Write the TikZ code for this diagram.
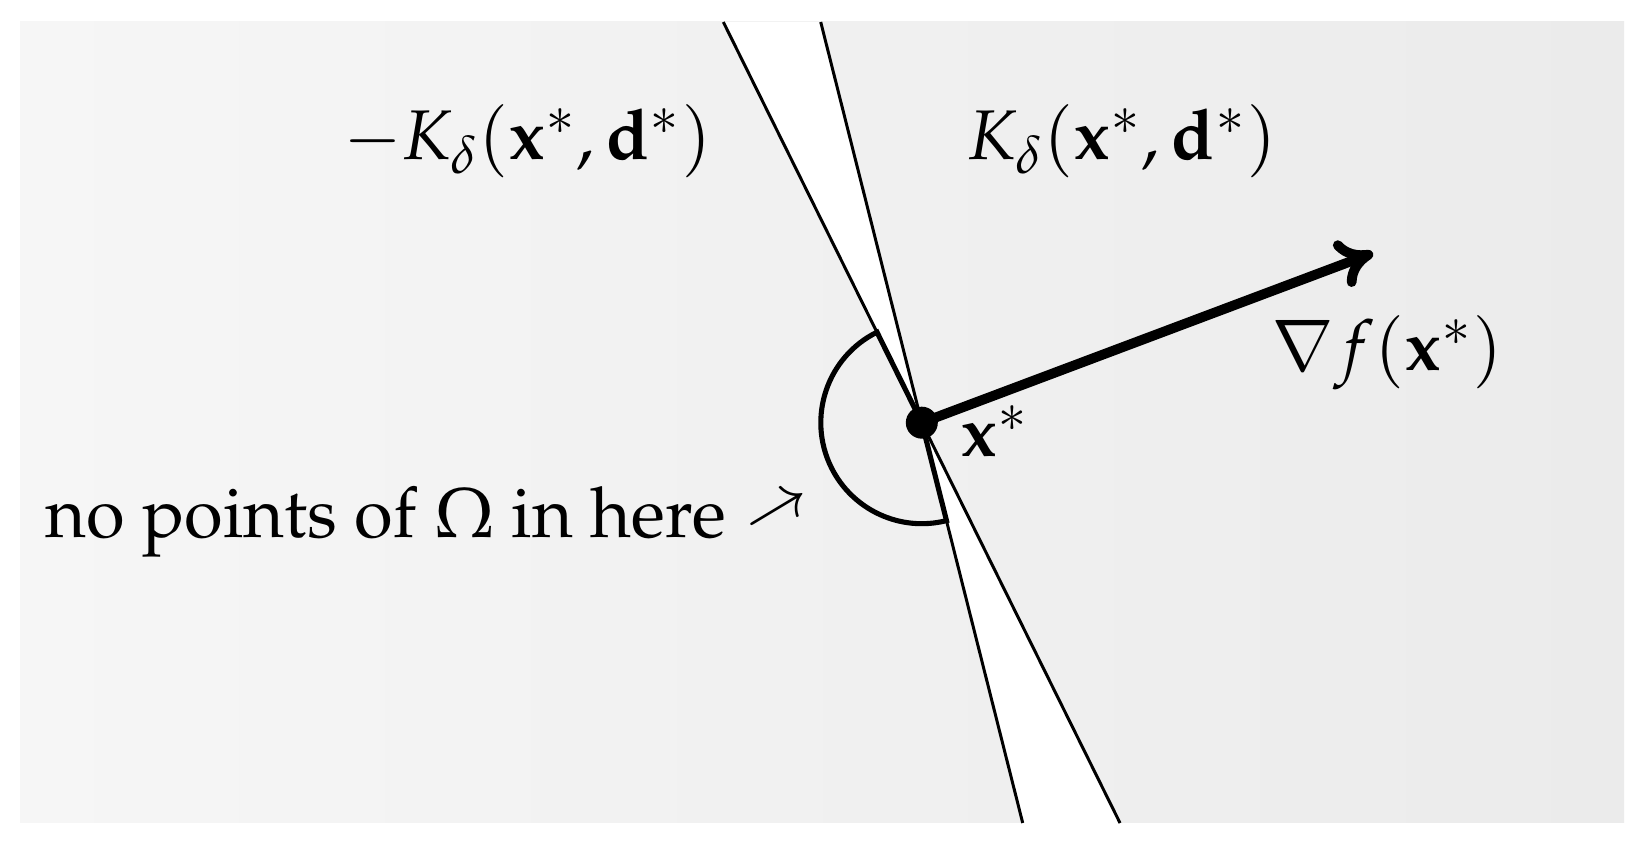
\documentclass[tikz,border=0pt]{standalone}
\usepackage[T1]{fontenc}
\usepackage{mathpazo}
\usepackage{graphicx}
\usetikzlibrary{arrows.meta}
\definecolor{bgL}{HTML}{F6F6F6}
\definecolor{bgR}{HTML}{EBEBEB}
\begin{document}
\begin{tikzpicture}[x=0.1mm,y=0.1mm,
  thinline/.style={line width=0.85pt},
  sectorline/.style={line width=1.45pt},
  gradarrow/.style={line width=2.8pt,-{Computer Modern Rightarrow[length=10pt,width=14pt]}},
  lbl/.style={inner sep=0pt,font=\fontsize{20}{24}\selectfont}]
\useasboundingbox (0,0) rectangle (1645,843);
\shade[left color=bgL,right color=bgR] (20,20) rectangle (1624,821);
\coordinate (C) at (921.8,420.3);
\coordinate (T1) at (723.3,821);
\coordinate (B1) at (1120,20);
\coordinate (T2) at (820.7,821);
\coordinate (B2) at (1022.7,20);
\coordinate (G) at (1373,590);
\fill[white] (T1) -- (T2) -- (C) -- cycle;
\fill[white] (B1) -- (B2) -- (C) -- cycle;
\draw[thinline] (T1) -- (B1);
\draw[thinline] (T2) -- (B2);
\draw[sectorline] (C) -- ++(116.34:101) arc[start angle=116.34,end angle=284.15,radius=101] -- cycle;
\draw[gradarrow] (C) -- (G);
\fill (C) circle[radius=16];
\node[lbl,anchor=base west] (mK) at (343,683) {$-K_\delta(\mathbf{x}^*,\mathbf{d}^*)$};
\node[lbl,anchor=base west] (K) at (967,683) {$K_\delta(\mathbf{x}^*,\mathbf{d}^*)$};
\node[lbl,anchor=base west] (gl) at (1271,472) {$\nabla f(\mathbf{x}^*)$};
\node[lbl,anchor=base west] (xl) at (960,386) {$\mathbf{x}^*$};
\node[lbl,anchor=base west] (np) at (45,305) {no points of $\Omega$ in here \raisebox{-1pt}{\rotatebox{31}{\scalebox{0.93}{$\rightarrow$}}}};
\end{tikzpicture}
\end{document}
